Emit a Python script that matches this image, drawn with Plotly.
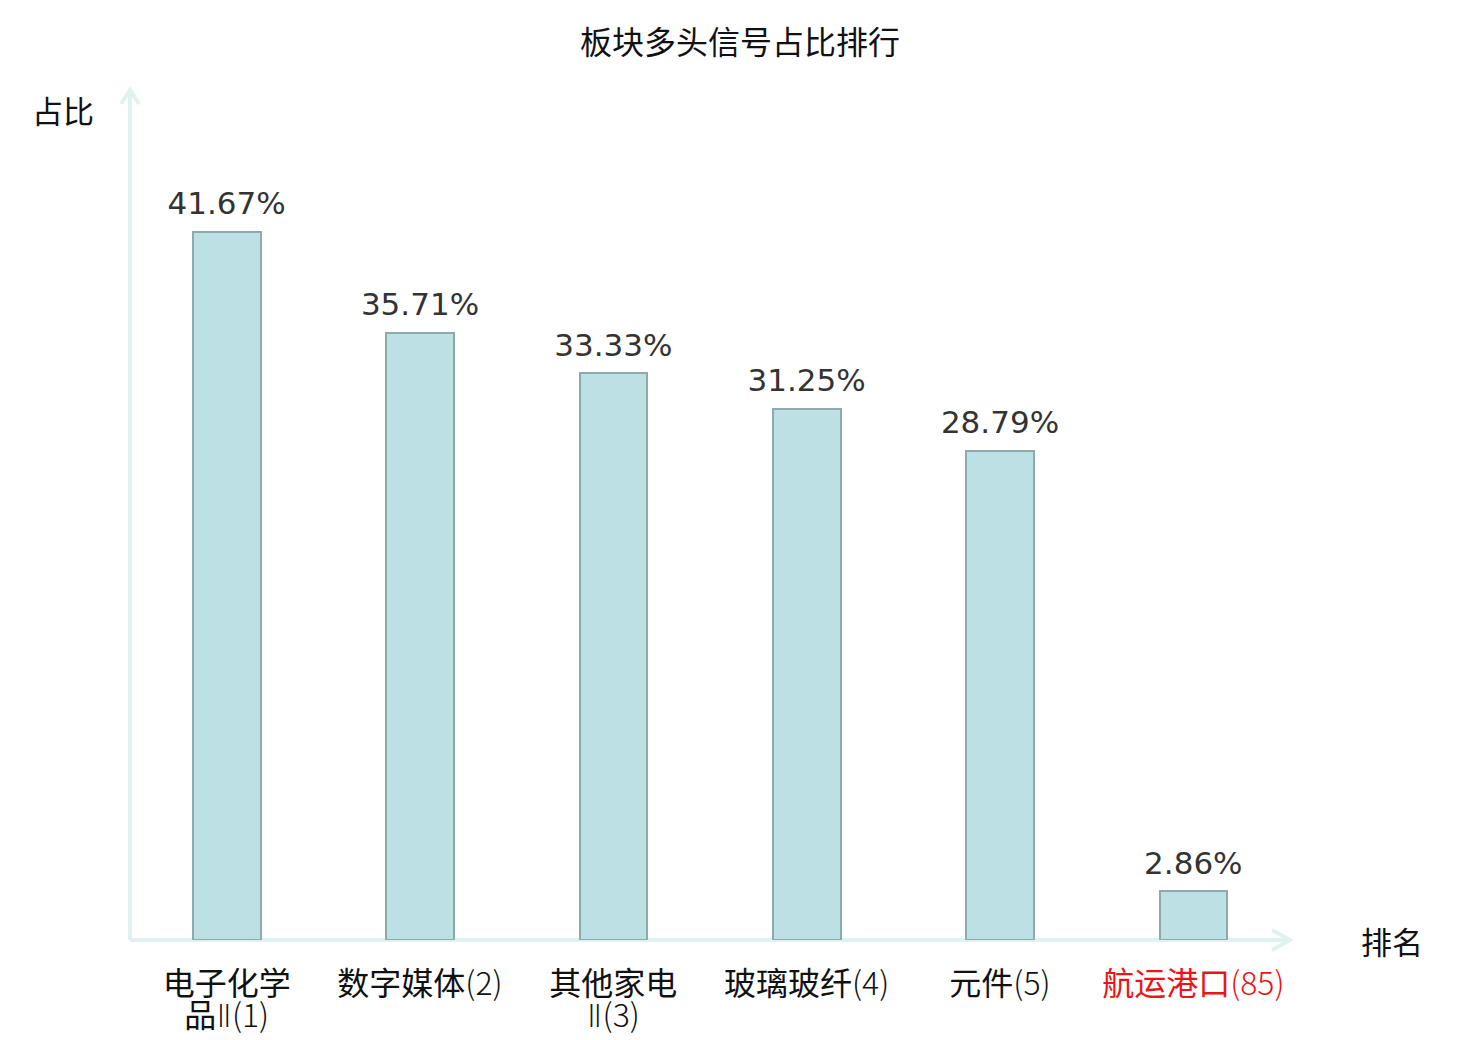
import plotly.graph_objects as go

categories = ["电子化学品Ⅱ(1)", "数字媒体(2)", "其他家电Ⅱ(3)", "玻璃玻纤(4)", "元件(5)", "航运港口(85)"]
label_line1 = ["电子化学", "数字媒体(2)", "其他家电", "玻璃玻纤(4)", "元件(5)", "航运港口(85)"]
label_line2 = ["品Ⅱ(1)", "", "Ⅱ(3)", "", "", ""]
values = [41.67, 35.71, 33.33, 31.25, 28.79, 2.86]
value_labels = ["41.67%", "35.71%", "33.33%", "31.25%", "28.79%", "2.86%"]
highlight = [False, False, False, False, False, True]

CJK = "Noto Sans CJK SC"
AXIS_COLOR = "#dff2f0"
LIGHT = "font-weight:300"
ROMAN = "font-family:'DejaVu Sans';font-weight:200"


def fmt(s):
    # render ascii digits / brackets lighter; roman numeral in a narrow face
    out = ""
    buf = ""
    for ch in s:
        if ch in "0123456789()":
            buf += ch
            continue
        if buf:
            out += f"<span style=\"{LIGHT}\">{buf}</span>"
            buf = ""
        if ch == "Ⅱ":
            out += f"<span style=\"{ROMAN}\">{ch}</span>"
        else:
            out += ch
    if buf:
        out += f"<span style=\"{LIGHT}\">{buf}</span>"
    return out


def colorize(s, hl):
    return f"<span style='color:#e8161b'>{s}</span>" if hl else s


tick1 = [colorize(fmt(s), highlight[i]) for i, s in enumerate(label_line1)]
tick2 = [colorize(fmt(s), highlight[i]) if s else "" for i, s in enumerate(label_line2)]

fig = go.Figure()
fig.add_trace(go.Bar(
    x=categories, y=values,
    width=0.35,
    marker=dict(color="#bce0e3", line=dict(color="#8eaaaa", width=2)),
    hoverinfo="skip",
))
fig.add_trace(go.Scatter(
    x=categories, y=values, xaxis="x2",
    mode="markers+text",
    marker=dict(size=14, color="rgba(0,0,0,0)"),
    text=value_labels, textposition="top center",
    textfont=dict(family="DejaVu Sans", size=31, color="#333333"),
    cliponaxis=False,
    hoverinfo="skip",
))

# page body has an 8px offset, margins compensate
fig.update_layout(
    width=1480, height=1040,
    margin=dict(l=122, r=198, t=82, b=108),
    paper_bgcolor="white", plot_bgcolor="white",
    showlegend=False,
    bargap=0,
    title=dict(text="板块多头信号占比排行", x=0.4946, xanchor="center", y=0.9665, yanchor="middle",
               font=dict(family=CJK, size=32, color="#111111")),
    xaxis=dict(
        type="category", range=[-0.5, 5.5],
        tickmode="array", tickvals=categories, ticktext=tick1,
        tickfont=dict(family=CJK, size=32, color="#111111"),
        showgrid=False, zeroline=False, showline=False, ticks="",
        ticklabelstandoff=22,
    ),
    xaxis2=dict(
        type="category", range=[-0.5, 5.5], overlaying="x", matches="x", anchor="y", side="bottom",
        tickmode="array", tickvals=categories, ticktext=tick2,
        tickfont=dict(family=CJK, size=32, color="#111111"),
        showgrid=False, zeroline=False, showline=False, ticks="",
        ticklabelstandoff=54,
    ),
    yaxis=dict(
        range=[0, 50], showticklabels=False, showgrid=False, zeroline=False,
        showline=False, ticks="",
    ),
)

# axis lines with arrowheads
fig.add_shape(type="line", xref="paper", yref="paper", x0=0, y0=0, x1=1.0, y1=0,
              line=dict(color=AXIS_COLOR, width=4), layer="below")
fig.add_shape(type="line", xref="paper", yref="paper", x0=0, y0=0, x1=0, y1=1.0,
              line=dict(color=AXIS_COLOR, width=4), layer="below")
fig.add_shape(type="path", xref="paper", yref="paper",
              path="M 0.9845,0.0118 L 1.0,0 L 0.9845,-0.0118",
              line=dict(color=AXIS_COLOR, width=4))
fig.add_shape(type="path", xref="paper", yref="paper",
              path="M -0.0078,0.9835 L 0,1.0 L 0.0078,0.9835",
              line=dict(color=AXIS_COLOR, width=4))

fig.add_annotation(xref="paper", yref="paper", x=-0.0578, y=0.9765, text="占比",
                   showarrow=False, xanchor="center", yanchor="middle",
                   font=dict(family=CJK, size=31, color="#111111"))
fig.add_annotation(xref="paper", yref="paper", x=1.0879, y=0.0, text="排名",
                   showarrow=False, xanchor="center", yanchor="middle",
                   font=dict(family=CJK, size=31, color="#111111"))

fig.write_html("out.html")
